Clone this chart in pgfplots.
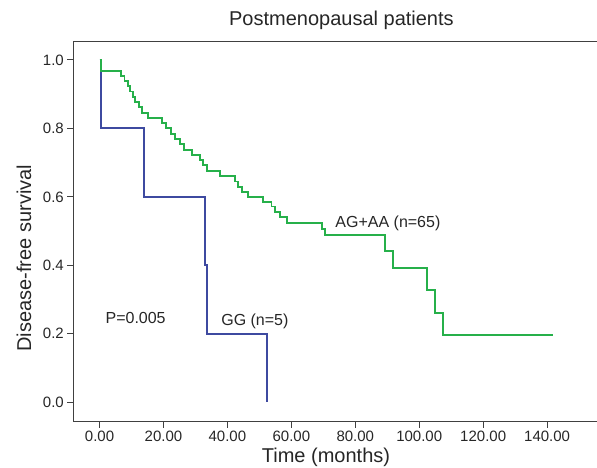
\documentclass[border=0pt]{standalone}
\usepackage{fontspec}
\setmainfont{Liberation Sans}
\usepackage{pgfplots}
\pgfplotsset{compat=1.18}
\definecolor{kmgreen}{RGB}{38,176,74}
\definecolor{kmblue}{RGB}{62,74,160}

\begin{document}
\begin{tikzpicture}
\begin{axis}[
    name=ax,
    scale only axis,
    width=523.7bp, height=380.4bp,
    xmin=-8.2, xmax=155.6,
    ymin=-0.0567, ymax=1.0546,
    axis x line=box, axis y line=left,
    axis line style={-, black!75, line width=1bp},
    tick pos=left,
    tick align=outside,
    major tick length=6bp,
    tick style={black!75, line width=1bp},
    xtick={0,20,40,60,80,100,120,140},
    ytick={0,0.2,0.4,0.6,0.8,1},
    x tick label style={/pgf/number format/fixed, /pgf/number format/fixed zerofill, /pgf/number format/precision=2},
    y tick label style={/pgf/number format/fixed, /pgf/number format/fixed zerofill, /pgf/number format/precision=1},
    /pgf/number format/assume math mode=true,
    tick label style={font=\fontsize{15bp}{18bp}\selectfont, text=black!85},
    xlabel={Time (months)},
    ylabel={Disease-free survival},
    label style={font=\fontsize{20bp}{24bp}\selectfont, text=black!85},
    xlabel style={at={(axis description cs:0.4825,-0.0928)}, anchor=center},
    ylabel style={at={(axis description cs:-0.0941,0.43)}, anchor=center},
    title={Postmenopausal patients},
    title style={at={(axis description cs:0.512,1.0252)}, anchor=base, yshift=0pt, font=\fontsize{20bp}{24bp}\selectfont, text=black!85},
]
% GG (n=5)
\addplot[const plot, kmblue, line width=1.9bp] coordinates {
    (0,1.0) (0.4,0.8) (13.9,0.6) (33.0,0.4) (33.5,0.2) (52.5,0.0)
};
% AG+AA (n=65)
\addplot[const plot, kmgreen, line width=1.9bp] coordinates {
    (0,1.0) (0.6,0.969) (6.7,0.954) (7.8,0.938) (8.8,0.923) (9.6,0.908)
    (10.5,0.892) (11.2,0.877) (12.3,0.862) (13.4,0.846) (15.2,0.831)
    (19.6,0.815) (20.8,0.800) (22.3,0.785) (23.5,0.769) (25.2,0.754)
    (26.5,0.738) (28.8,0.723) (31.3,0.708) (32.4,0.692) (33.5,0.677)
    (37.6,0.661) (42.4,0.645) (43.3,0.630) (44.5,0.614) (46.5,0.600)
    (51.2,0.586) (53.8,0.572) (54.9,0.557) (56.5,0.540) (58.5,0.523)
    (69.5,0.506) (70.5,0.489) (89.3,0.443) (91.7,0.391) (102.3,0.328)
    (104.9,0.262) (107.3,0.196) (141.8,0.196)
};
\node[font=\fontsize{16bp}{19bp}\selectfont, text=black!85] at (axis cs:90.2,0.524) {AG+AA (n=65)};
\node[font=\fontsize{16bp}{19bp}\selectfont, text=black!85] at (axis cs:48.6,0.235) {GG (n=5)};
\node[font=\fontsize{16bp}{19bp}\selectfont, text=black!85, anchor=west] at (axis cs:0.8,0.246) {P=0.005};
\end{axis}
\pgfresetboundingbox
\path ([xshift=-73.3bp,yshift=-46.3bp]ax.south west) rectangle ([yshift=41.3bp]ax.north east);
\end{tikzpicture}
\end{document}
